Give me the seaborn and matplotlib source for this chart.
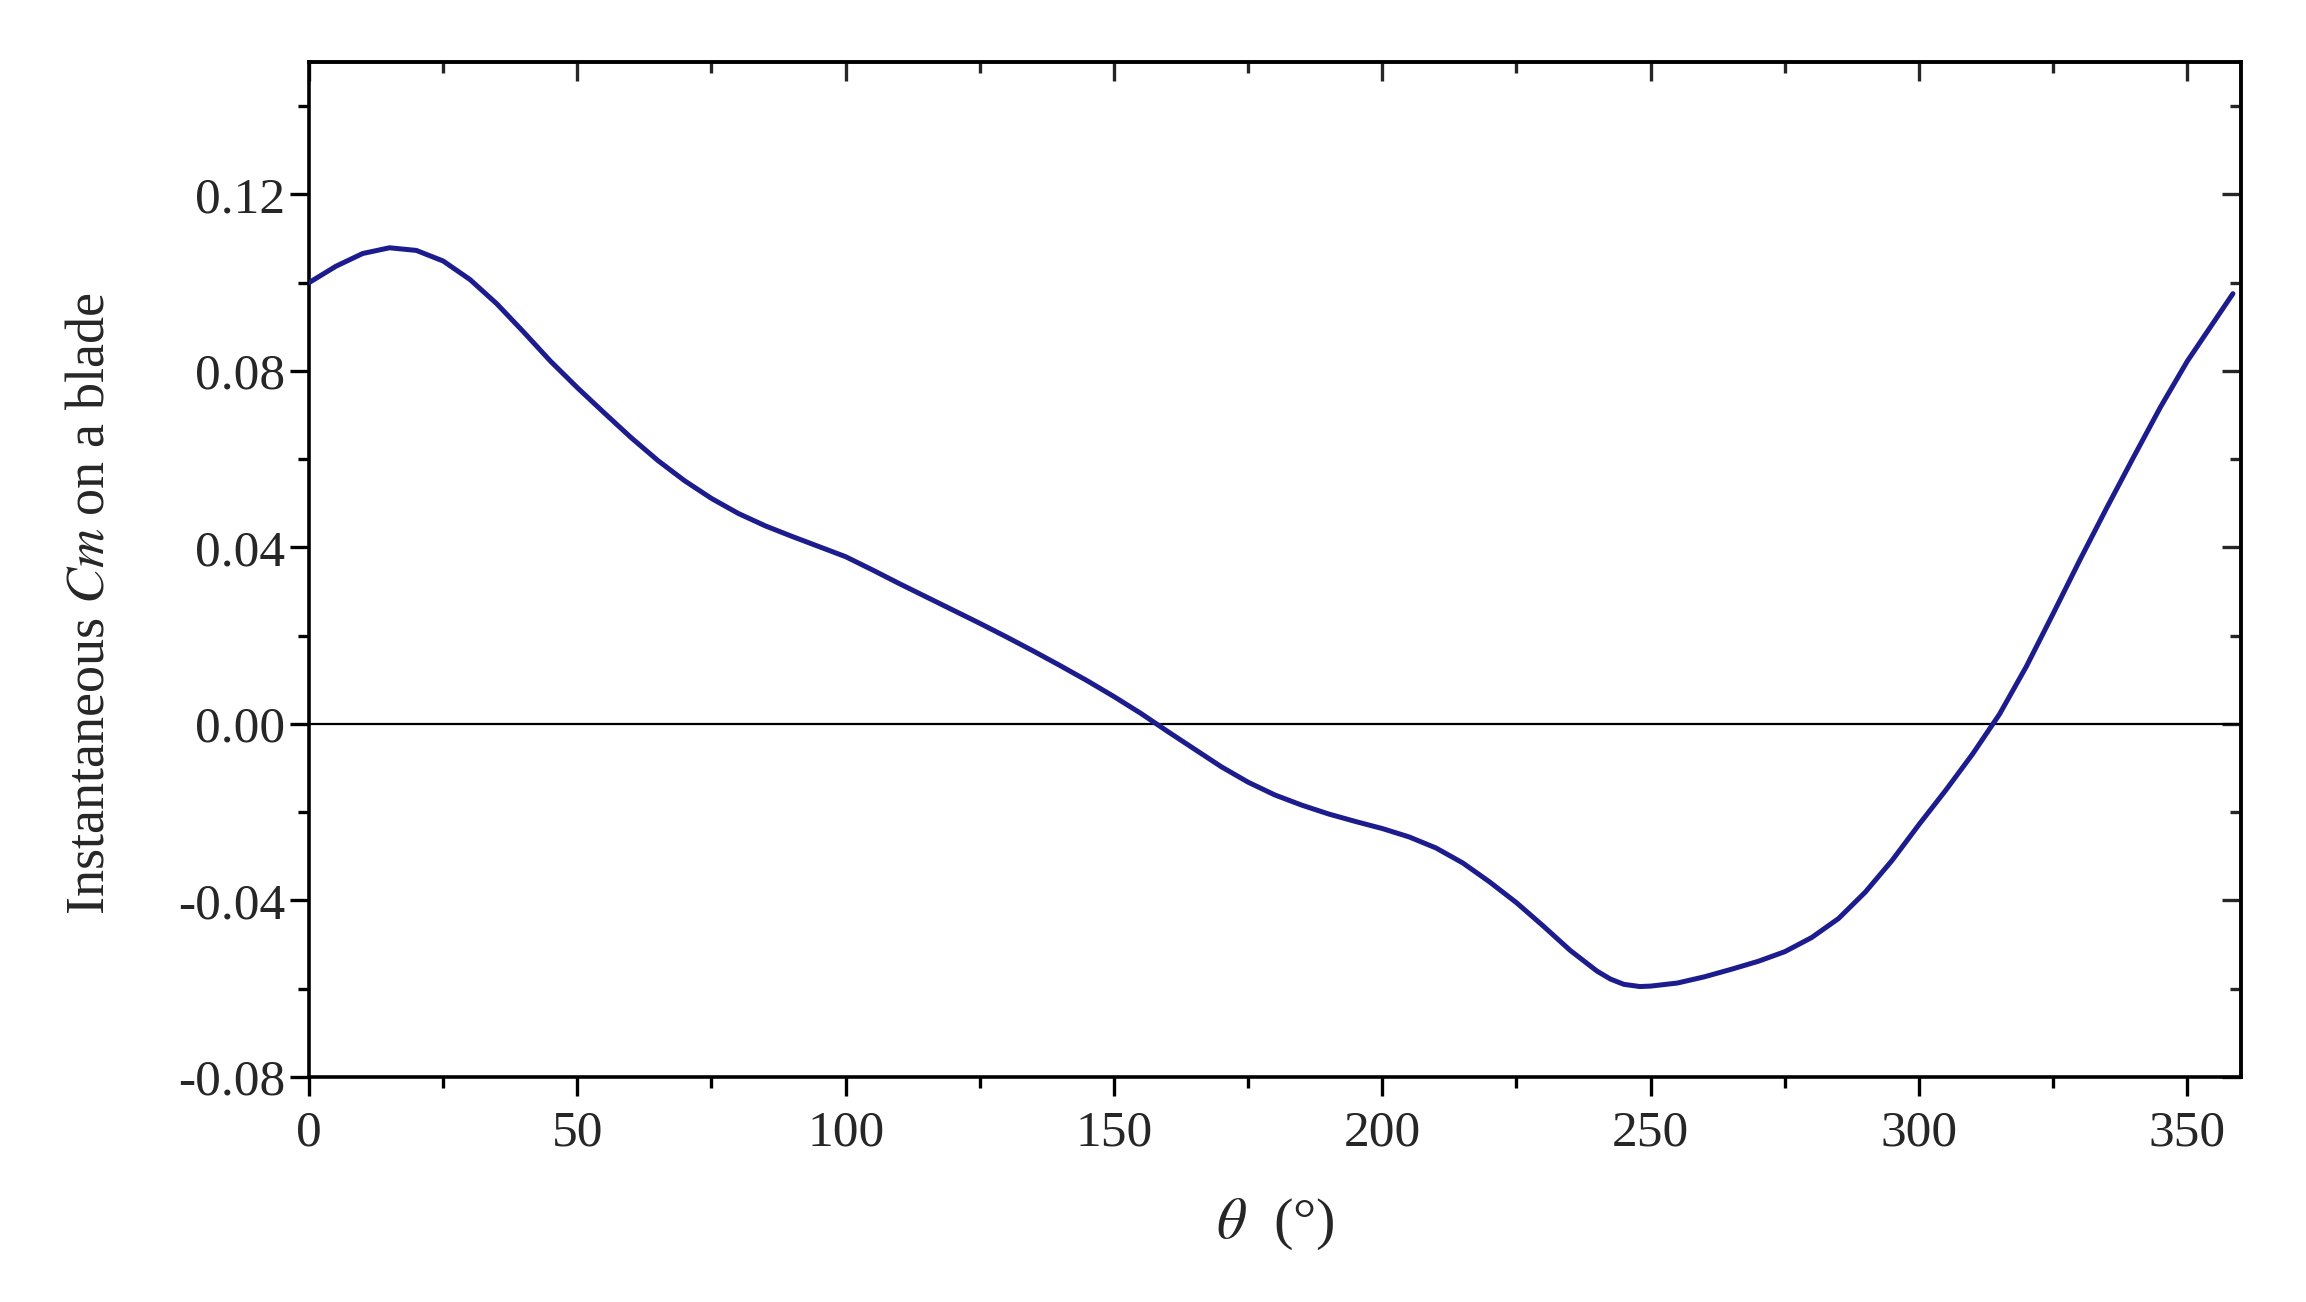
import numpy as np
import pandas as pd
import seaborn as sns
import matplotlib.pyplot as plt
from matplotlib.ticker import MultipleLocator

# values
theta = [0, 5, 10, 15, 20, 25, 30, 35, 40, 45, 50, 55, 60, 65, 70, 75, 80, 85, 90,
         95, 100, 105, 110, 115, 120, 125, 130, 135, 140, 145, 150, 155, 160, 165,
         170, 175, 180, 185, 190, 195, 200, 205, 210, 215, 220, 225, 230, 235, 240,
         242.5, 245, 248, 250, 255, 260, 265, 270, 275, 280, 285, 290, 295, 300, 305,
         310, 315, 320, 325, 330, 335, 340, 345, 350, 355, 358.5]
cm = [0.1000, 0.1037, 0.1066, 0.1079, 0.1073, 0.1049, 0.1007, 0.0952, 0.0888, 0.0822,
      0.0762, 0.0705, 0.0649, 0.0597, 0.0551, 0.0511, 0.0477, 0.0449, 0.0425,
      0.0402, 0.0379, 0.0349, 0.0318, 0.0288, 0.0258, 0.0228, 0.0197, 0.0165,
      0.0132, 0.0098, 0.0062, 0.0024, -0.0017, -0.0057, -0.0097, -0.0132, -0.0161,
      -0.0184, -0.0204, -0.0221, -0.0237, -0.0256, -0.0281, -0.0315, -0.0358,
      -0.0405, -0.0458, -0.0513, -0.0560, -0.0578, -0.0590, -0.0595, -0.0594,
      -0.0587, -0.0573, -0.0556, -0.0538, -0.0516, -0.0484, -0.0441, -0.0381,
      -0.0309, -0.0228, -0.0150, -0.0068, 0.0022, 0.0130, 0.0250, 0.0372, 0.0490,
      0.0605, 0.0718, 0.0822, 0.0912, 0.0975]

xticks = [0, 50, 100, 150, 200, 250, 300, 350]
yticks = [-0.08, -0.04, 0.00, 0.04, 0.08, 0.12]

df = pd.DataFrame({'theta': theta, 'cm': cm})

sns.set_style('ticks')
plt.rcParams['font.family'] = ['Liberation Serif', 'DejaVu Serif']
plt.rcParams['mathtext.fontset'] = 'stix'

fig = plt.figure(figsize=(23.06, 13.02), dpi=100)
ax = fig.add_axes([0.134, 0.1728, 0.8378, 0.7796])

ax.axhline(0, color='black', lw=1.6, zorder=1)
sns.lineplot(data=df, x='theta', y='cm', ax=ax, color='#1c1c8e', linewidth=3.6,
             zorder=3)

ax.set_xlim(0, 360)
ax.set_ylim(-0.08, 0.15)
ax.set_xticks(xticks)
ax.set_yticks(yticks)
ax.set_yticklabels([f'{v:.2f}' for v in yticks])
ax.xaxis.set_minor_locator(MultipleLocator(25))
ax.yaxis.set_minor_locator(MultipleLocator(0.02))

for s in ax.spines.values():
    s.set_linewidth(2.6)
    s.set_color('black')

ax.tick_params(which='both', direction='out', top=False, right=False,
               width=2.4, color='black', labelsize=37)
ax.tick_params(axis='x', pad=10)
ax.tick_params(axis='y', pad=3)
ax.tick_params(which='major', length=14)
ax.tick_params(which='minor', length=8)

# mirrored ticks pointing inwards on top and right
top = ax.secondary_xaxis('top')
top.set_xticks(xticks)
top.xaxis.set_minor_locator(MultipleLocator(25))
top.tick_params(which='both', direction='in', labeltop=False, width=2.4)
top.tick_params(which='major', length=14)
top.tick_params(which='minor', length=8)
right = ax.secondary_yaxis('right')
right.set_yticks(yticks)
right.yaxis.set_minor_locator(MultipleLocator(0.02))
right.tick_params(which='both', direction='in', labelright=False, width=2.4)
right.tick_params(which='major', length=14)
right.tick_params(which='minor', length=8)
for sec in (top, right):
    for s in sec.spines.values():
        s.set_linewidth(2.6)

ax.set_xlabel(r'$\theta$  (°)', fontsize=42)
ax.set_ylabel(r'Instantaneous $Cm$ on a blade', fontsize=39)
ax.xaxis.set_label_coords(0.5, -0.118)
ax.yaxis.set_label_coords(-0.100, 0.466)

fig.savefig('out.png', dpi=100, facecolor='white')
